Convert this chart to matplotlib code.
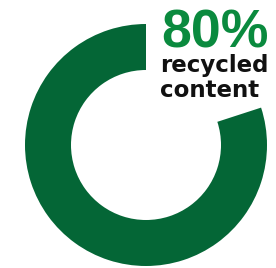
import matplotlib
matplotlib.use("Agg")
import matplotlib.pyplot as plt

values = [80, 20]
big_label = "80%"
sub_lines = ["recycled", "content"]

W, H = 276, 268
fig = plt.figure(figsize=(W / 100, H / 100), dpi=100)
ax = fig.add_axes([0, 0, 1, 1])
ax.set_xlim(0, W)
ax.set_ylim(0, H)

ax.pie(values, colors=["#046636", "none"], startangle=90, counterclock=True,
       center=(146, H - 145), radius=121,
       wedgeprops=dict(width=46, edgecolor="none", linewidth=0),
       frame=True)
ax.set_xlim(0, W)
ax.set_ylim(0, H)
ax.set_aspect("auto")
ax.set_position([0, 0, 1, 1])
ax.axis("off")

ax.text(161, H - 47.5, big_label, color="#0a8a3e", fontsize=38.5, fontweight="bold",
        family="Liberation Sans", ha="left", va="baseline")
ax.text(160, H - 72, sub_lines[0], color="#111111", fontsize=16.5, fontweight="bold",
        family="DejaVu Sans", ha="left", va="baseline")
ax.text(160, H - 97, sub_lines[1], color="#111111", fontsize=16.5, fontweight="bold",
        family="DejaVu Sans", ha="left", va="baseline")

fig.savefig("out.png", dpi=100)
